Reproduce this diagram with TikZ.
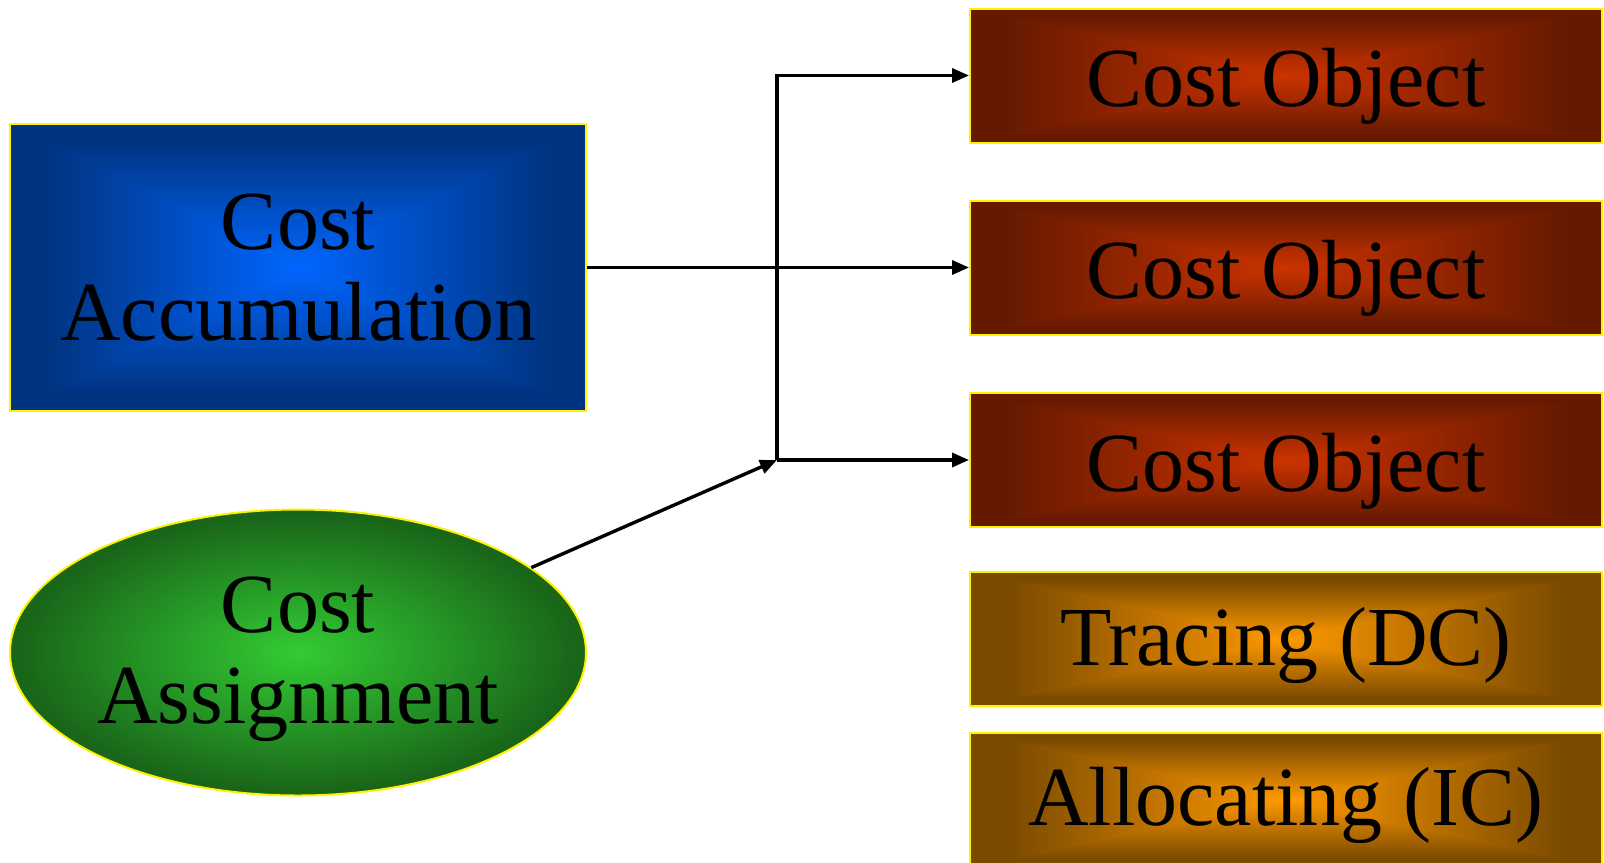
\documentclass[tikz,border=0pt]{standalone}
\usepackage{fontspec}
\setmainfont{Liberation Serif}
\usepackage{tikz}
\usetikzlibrary{shapes.geometric,arrows.meta}

% glow from the centre out to the edge: t = max(|x|,|y|) for boxes, radius for the ellipse
\pgfdeclarefunctionalshading{blueglow}{\pgfpoint{-50bp}{-50bp}}{\pgfpoint{50bp}{50bp}}{}{
  abs exch abs 2 copy lt {exch} if pop 22 div dup 1 gt {pop 1} if
  dup 0 mul 0 add
  exch dup -0.2 mul 0.4 add
  exch -0.5 mul 1 add
}
\pgfdeclarefunctionalshading{redglow}{\pgfpoint{-50bp}{-50bp}}{\pgfpoint{50bp}{50bp}}{}{
  abs exch abs 2 copy lt {exch} if pop 22 div dup 1 gt {pop 1} if
  dup -0.4 mul 0.8 add
  exch dup -0.1 mul 0.2 add
  exch 0 mul 0 add
}
\pgfdeclarefunctionalshading{orangeglow}{\pgfpoint{-50bp}{-50bp}}{\pgfpoint{50bp}{50bp}}{}{
  abs exch abs 2 copy lt {exch} if pop 22 div dup 1 gt {pop 1} if
  dup -0.52 mul 1 add
  exch dup -0.31 mul 0.6 add
  exch 0 mul 0 add
}
\pgfdeclarefunctionalshading{greenglow}{\pgfpoint{-50bp}{-50bp}}{\pgfpoint{50bp}{50bp}}{}{
  dup mul exch dup mul add sqrt 24 div dup 1 gt {pop 1} if
  dup -0.1 mul 0.2 add
  exch dup -0.4 mul 0.8 add
  exch -0.1 mul 0.2 add
}

\tikzset{
  bigtext/.style={font=\fontsize{42}{45.5}\selectfont, text=black, align=center, inner sep=0pt},
  accbox/.style={bigtext, rectangle, draw=yellow, line width=1pt, shade, shading=blueglow,
    minimum width=288pt, minimum height=143.5pt},
  assignell/.style={bigtext, ellipse, draw=yellow, line width=1pt, shade, shading=greenglow,
    minimum width=288pt, minimum height=143pt, text depth=2pt},
  objbox/.style={bigtext, rectangle, draw=yellow, line width=1pt, shade, shading=redglow,
    minimum width=316pt, minimum height=67pt, text height=40pt, text depth=9pt},
  methodbox/.style={objbox, shading=orangeglow, text height=35pt, text depth=9pt},
  conn/.style={line width=1.7pt, -{Triangle[length=8.5pt,width=7pt]}}
}

\begin{document}
\begin{tikzpicture}[x=0.5pt, y=-0.5pt]
  \useasboundingbox (0,0) rectangle (1604,862);
  \clip (0,0) rectangle (1604,862);

  \node[accbox] (accum) at (298,267.5) {Cost\\Accumulation};
  \node[assignell] (assign) at (298,652.5) {Cost\\Assignment};

  \foreach \i/\y in {1/75.5, 2/267.5, 3/460}
    \node[objbox] (obj\i) at (1286,\y) {Cost Object};

  \node[methodbox] (trace) at (1286,639) {Tracing (DC)};
  \node[methodbox] (alloc) at (1286,799.5) {Allocating (IC)};

  \coordinate (hub) at (777,460);

  \draw[conn] (accum.east) -- (obj2.west);
  \draw[conn] (assign.20) -- (hub);
  \draw[conn] (hub) |- (obj1.west);
  \draw[conn] (hub) -- (obj3.west);
\end{tikzpicture}
\end{document}
